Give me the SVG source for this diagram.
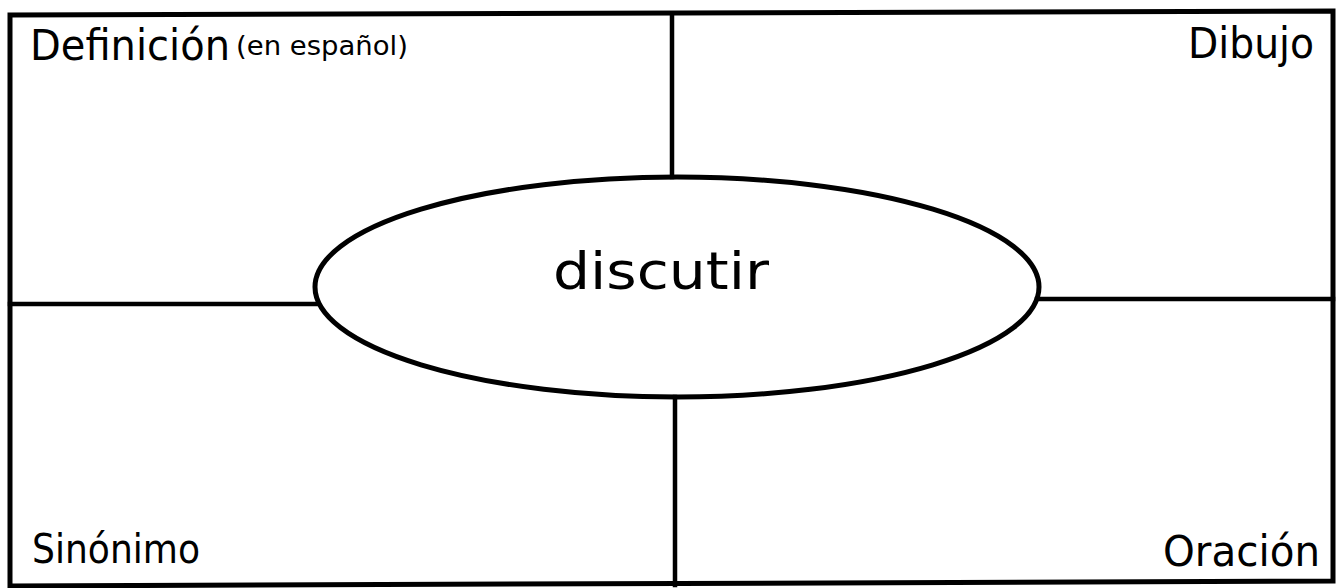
<svg xmlns="http://www.w3.org/2000/svg" width="1341" height="588" viewBox="0 0 1341 588">
<style>
.ln{stroke:#000;fill:none;stroke-linecap:square}
.frame{stroke-width:5}
.div{stroke-width:4.5}
.lbl{font-family:"DejaVu Sans","Liberation Sans",sans-serif;fill:#000}
</style>
<rect width="1341" height="588" fill="#fff"/>
<g id="connectors">
<polygon class="ln frame" points="10,15 1333,11 1333,581 10,586" stroke-linejoin="miter"/>
<line class="ln div" x1="672" y1="14" x2="672" y2="177"/>
<line class="ln div" x1="675" y1="397" x2="675" y2="585"/>
<line class="ln div" x1="10" y1="304" x2="318" y2="304"/>
<line class="ln div" x1="1037" y1="299" x2="1333" y2="299"/>
</g>
<g id="center">
<ellipse class="ln" stroke-width="5" cx="677" cy="287" rx="362" ry="110" fill="#fff"/>
<text class="lbl" x="553" y="289" font-size="52" textLength="216" lengthAdjust="spacingAndGlyphs">discutir</text>
</g>
<g id="definicion">
<text class="lbl" x="30" y="60" font-size="42" textLength="200" lengthAdjust="spacingAndGlyphs">Definición</text>
<text class="lbl" x="236" y="55" font-size="26" textLength="172" lengthAdjust="spacingAndGlyphs">(en español)</text>
</g>
<g id="dibujo">
<text class="lbl" x="1188" y="58" font-size="42" textLength="126" lengthAdjust="spacingAndGlyphs">Dibujo</text>
</g>
<g id="sinonimo">
<text class="lbl" x="32" y="563" font-size="41" textLength="168" lengthAdjust="spacingAndGlyphs">Sinónimo</text>
</g>
<g id="oracion">
<text class="lbl" x="1163" y="566" font-size="42" textLength="157" lengthAdjust="spacingAndGlyphs">Oración</text>
</g>
</svg>
